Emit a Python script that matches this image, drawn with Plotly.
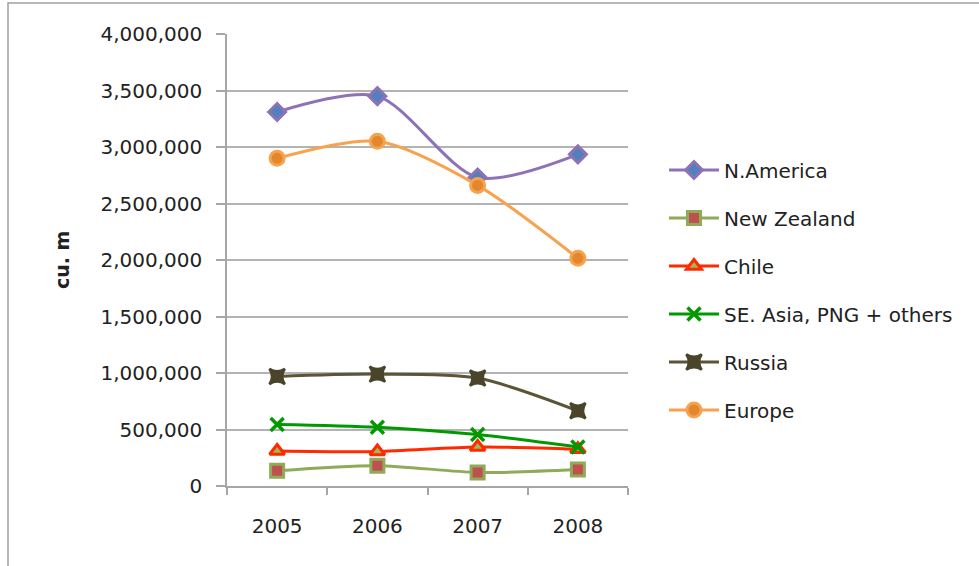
import plotly.graph_objects as go

years = ["2005", "2006", "2007", "2008"]
n_america = [3310000, 3450000, 2730000, 2935000]
new_zealand = [135000, 180000, 120000, 145000]
chile = [310000, 305000, 345000, 325000]
se_asia = [545000, 520000, 455000, 345000]
russia = [970000, 990000, 955000, 665000]
europe = [2900000, 3050000, 2660000, 2015000]
y_ticks = [0, 500000, 1000000, 1500000, 2000000, 2500000, 3000000, 3500000, 4000000]

W, H = 979, 566
L, R, T, B = 227, 351, 34, 80
pw, ph = W - L - R, H - T - B

def px_x(p):
    return (p - L) / pw

def px_y(p):
    return (H - B - p) / ph

series = [
    ("N.America", n_america, "#8E72B6", dict(symbol="diamond", size=13, color="#4F81BD", line=dict(color="#8E72B6", width=3))),
    ("New Zealand", new_zealand, "#8FAA58", dict(symbol="square", size=13, color="#C0504D", line=dict(color="#8FAA58", width=3))),
    ("Chile", chile, "#FF2A00", dict(symbol="triangle-up", size=13, color="#9BBB59", line=dict(color="#FF2A00", width=3))),
    ("SE. Asia, PNG + others", se_asia, "#009A00", dict(symbol="x-thin", size=13, color="#009A00", line=dict(color="#009A00", width=3.5))),
    ("Russia", russia, "#5B5538", dict(symbol="star-square", size=14, color="#4A452A", line=dict(color="#4A452A", width=2.5))),
    ("Europe", europe, "#F8A24E", dict(symbol="circle", size=14, color="#E3872E", line=dict(color="#F8A24E", width=3))),
]

fig = go.Figure()
for i, (name, vals, col, mk) in enumerate(series):
    fig.add_trace(go.Scatter(
        x=years, y=vals, name=name, mode="lines+markers",
        line=dict(color=col, width=3, shape="spline", smoothing=0.8),
        marker=mk, legendgroup=f"g{i}",
    ))

fig.update_layout(
    width=W, height=H,
    margin=dict(l=L, r=R, t=T, b=B),
    paper_bgcolor="white", plot_bgcolor="white",
    font=dict(family="DejaVu Sans", color="#222222"),
    showlegend=True,
    legend=dict(
        x=px_x(664), y=px_y(290), xanchor="left", yanchor="middle",
        font=dict(size=20, family="DejaVu Sans", color="#222222"),
        tracegroupgap=19, traceorder="grouped", itemwidth=50,
        bgcolor="rgba(0,0,0,0)",
    ),
    xaxis=dict(
        type="category", range=[-0.5, 3.5], tickson="boundaries",
        showgrid=False, showline=True, linecolor="#A6A6A6", linewidth=1.5,
        ticks="outside", ticklen=7, tickcolor="#A6A6A6", tickwidth=1.5,
        tickfont=dict(size=20, family="DejaVu Sans", color="#222222"),
        ticklabelstandoff=21,
    ),
    yaxis=dict(
        range=[0, 4000000], tickvals=y_ticks, tickformat=",d",
        showgrid=True, gridcolor="#B3B3B3", gridwidth=1.5,
        showline=True, linecolor="#A6A6A6", linewidth=1.5,
        ticks="outside", ticklen=9, tickcolor="#A6A6A6", tickwidth=1.5,
        tickfont=dict(size=20, family="DejaVu Sans", color="#222222"),
        ticklabelstandoff=10,
        zeroline=False,
    ),
    annotations=[dict(
        text="<b>cu. m</b>", textangle=-90, x=px_x(62), y=px_y(260),
        xref="paper", yref="paper", xanchor="center", yanchor="middle",
        showarrow=False,
        font=dict(size=19, family="DejaVu Sans", color="#222222"),
    )],
    shapes=[dict(
        type="rect", xref="paper", yref="paper",
        x0=px_x(8), x1=px_x(990), y0=px_y(590), y1=px_y(3),
        line=dict(color="#A0A0A0", width=1.5), layer="below",
    )],
)

fig.write_html("out.html")
